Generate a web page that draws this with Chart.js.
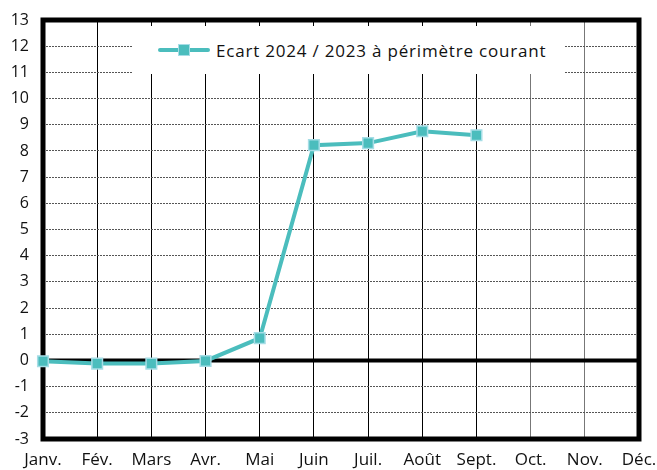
<!DOCTYPE html>
<html>
<head>
<meta charset="utf-8">
<script src="https://cdn.jsdelivr.net/npm/chart.js@4"></script>
<style>
    body { margin: 0; background: #fff; }
    #wrap { position: relative; width: 657px; height: 470px; }
    #legend {
        position: absolute; left: 133px; top: 26px; width: 432px; height: 48px;
        background: #fff; display: flex; align-items: center;
        font-family: 'Open Sans', sans-serif; font-size: 17px; letter-spacing: 0.8px; color: #111;
    }
    #legend .mark { position: relative; width: 52px; height: 14px; margin-left: 25px; margin-right: 6px; }
    #legend .mark .ln { position: absolute; left: 0; right: 0; top: 5px; height: 4px; background: #4bbdbd; border-radius: 2px; }
    #legend .mark .sq { position: absolute; left: 20px; top: 1px; width: 10px; height: 10px; background: #4bbdbd; border: 1px solid #a6dde6; }
</style>
</head>
<body>
<div id="wrap">
    <canvas id="chart" width="657" height="470"></canvas>
    <div id="legend"><span class="mark"><span class="ln"></span><span class="sq"></span></span>Ecart 2024 / 2023 à périmètre courant</div>
</div>
<script>
const months = ['Janv.', 'Fév.', 'Mars', 'Avr.', 'Mai', 'Juin', 'Juil.', 'Août', 'Sept.', 'Oct.', 'Nov.', 'Déc.'];
const ecart = [-0.03, -0.12, -0.12, -0.02, 0.85, 8.22, 8.3, 8.75, 8.6, null, null, null];
const yMin = -3;
const yMax = 13;

// zero line + thick frame, drawn under the data
const framePlugin = {
    id: 'frame',
    beforeDatasetsDraw(chart) {
        const { ctx, chartArea: a, scales } = chart;
        const y0 = scales.y.getPixelForValue(0);
        ctx.save();
        ctx.strokeStyle = '#000';
        ctx.lineWidth = 4;
        ctx.beginPath();
        ctx.moveTo(a.left, y0);
        ctx.lineTo(a.right, y0);
        ctx.stroke();
        ctx.lineWidth = 5;
        ctx.strokeRect(a.left, a.top, a.right - a.left, a.bottom - a.top);
        ctx.restore();
    }
};

const ctx = document.getElementById('chart').getContext('2d');
new Chart(ctx, {
    type: 'line',
    data: {
        labels: months,
        datasets: [{
            label: 'Ecart 2024 / 2023 à périmètre courant',
            data: ecart,
            borderColor: '#4bbdbd',
            borderWidth: 4,
            pointStyle: 'rect',
            pointRadius: 7.5,
            pointBackgroundColor: '#4bbdbd',
            pointBorderColor: '#a6dde6',
            pointBorderWidth: 1.5,
            tension: 0,
            clip: false
        }]
    },
    options: {
        responsive: false,
        animation: false,
        layout: { padding: { top: 20, right: 18, left: 0, bottom: 0 } },
        plugins: {
            legend: { display: false },
            tooltip: { enabled: false }
        },
        scales: {
            x: {
                offset: false,
                afterFit: s => { s.height = 31; s.paddingLeft = 0; s.paddingRight = 0; },
                border: { display: false },
                grid: {
                    offset: false,
                    drawTicks: false,
                    color: c => (c.index === 9 || c.index === 10) ? '#777' : '#000',
                    lineWidth: 1
                },
                ticks: {
                    padding: 11,
                    maxRotation: 0,
                    autoSkip: false,
                    color: '#111',
                    font: { family: 'Open Sans', size: 17 }
                }
            },
            y: {
                min: yMin,
                max: yMax,
                afterFit: s => { s.width = 43; s.paddingTop = 0; s.paddingBottom = 0; },
                border: { display: false, dash: [2, 1] },
                grid: {
                    drawTicks: false,
                    color: c => c.tick.value === 0 ? 'rgba(0,0,0,0)' : '#555',
                    lineWidth: 1
                },
                ticks: {
                    stepSize: 1,
                    padding: 14,
                    color: '#111',
                    font: { family: 'Open Sans', size: 16 }
                }
            }
        }
    },
    plugins: [framePlugin]
});
</script>
</body>
</html>
